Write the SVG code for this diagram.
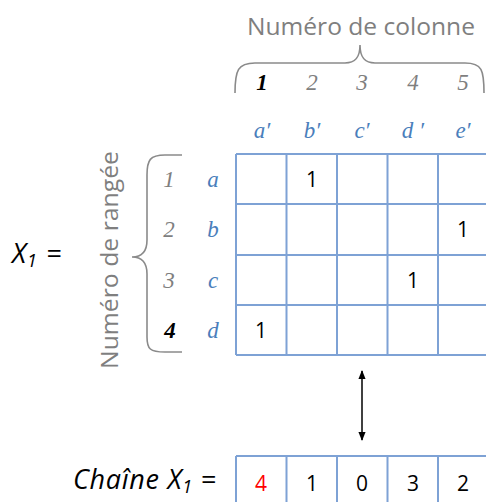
<svg xmlns="http://www.w3.org/2000/svg" width="486" height="502" viewBox="0 0 486 502">
<defs>
<style>
.sans{font-family:"Open Sans","Liberation Sans",sans-serif}
.gray{fill:#7f7f7f}
.ser{font-family:"Liberation Serif","DejaVu Serif",serif;font-style:italic;font-size:23px;text-anchor:middle}
.blue{fill:#4a7ebb}
.grid{stroke:#7ea2d5;stroke-width:2;fill:none}
.brace{stroke:#8a8a8a;stroke-width:1.6;fill:none}
.cell{font-family:"Open Sans","Liberation Sans",sans-serif;font-size:21px;text-anchor:middle;fill:#000}
.lbl{font-family:"Open Sans","Liberation Sans",sans-serif;font-size:27px;font-style:italic;fill:#000}
</style>
<marker id="ah" viewBox="0 0 10 10" refX="9" refY="5" markerWidth="6" markerHeight="6" orient="auto-start-reverse">
<path d="M0,1 L10,5 L0,9 z" fill="#000"/>
</marker>
</defs>
<rect width="486" height="502" fill="#fff"/>

<g id="col-title">
<text class="sans gray" x="361" y="35" font-size="23" text-anchor="middle" textLength="228" lengthAdjust="spacingAndGlyphs">Numéro de colonne</text>
<path class="brace" d="M235,93 C235,70 238,63 255,63 L345,63 C355,63 360,58 360,45 C360,58 365,63 375,63 L465,63 C482,63 484,70 484,93"/>
</g>

<g id="col-numbers">
<text class="ser" x="262" y="90" font-weight="bold" fill="#000">1</text>
<text class="ser gray" x="312" y="90">2</text>
<text class="ser gray" x="362" y="90">3</text>
<text class="ser gray" x="413" y="90">4</text>
<text class="ser gray" x="463" y="90">5</text>
</g>

<g id="col-letters">
<text class="ser blue" x="262" y="138">a′</text>
<text class="ser blue" x="312" y="138">b′</text>
<text class="ser blue" x="362" y="138">c′</text>
<text class="ser blue" x="413" y="138">d ′</text>
<text class="ser blue" x="463" y="138">e′</text>
</g>

<g id="row-title">
<text class="sans gray" transform="translate(118,260) rotate(-90)" font-size="23" text-anchor="middle" textLength="218" lengthAdjust="spacingAndGlyphs">Numéro de rangée</text>
<path class="brace" d="M182,155 L165,155 C150,155 147,160 147,175 L147,240 C147,252 142,257 132,257 C142,257 147,262 147,274 L147,337 C147,349 150,352 165,352 L182,352"/>
</g>

<g id="row-numbers">
<text class="ser gray" x="169" y="187">1</text>
<text class="ser gray" x="169" y="237">2</text>
<text class="ser gray" x="169" y="288">3</text>
<text class="ser" x="170" y="338" font-weight="bold" fill="#000">4</text>
<text class="ser blue" x="213" y="187">a</text>
<text class="ser blue" x="213" y="237">b</text>
<text class="ser blue" x="213" y="288">c</text>
<text class="ser blue" x="213" y="338">d</text>
</g>

<g id="x1-label">
<text class="lbl" x="12" y="263" letter-spacing="1">X<tspan font-size="18" dy="4">1</tspan><tspan dy="-4"> =</tspan></text>
</g>

<g id="matrix">
<path class="grid" d="M236,154 H492 M236,204 H492 M236,255 H492 M236,305 H492 M236,355 H492 M236,154 V355 M286.5,154 V355 M337,154 V355 M387.5,154 V355 M438,154 V355 M488.5,154 V355"/>
<text class="cell" x="312" y="187">1</text>
<text class="cell" x="463" y="237">1</text>
<text class="cell" x="413" y="288">1</text>
<text class="cell" x="261" y="338">1</text>
</g>

<g id="connectors">
<line x1="362" y1="371" x2="362" y2="440" stroke="#000" stroke-width="1.5" marker-start="url(#ah)" marker-end="url(#ah)"/>
</g>

<g id="chain-label">
<text class="lbl" x="73" y="489" letter-spacing="0.7">Chaîne X<tspan font-size="18" dy="4">1</tspan><tspan dy="-4"> =</tspan></text>
</g>

<g id="chain">
<path class="grid" d="M236,456 H492 M236,456 V504 M286.5,456 V504 M337,456 V504 M387.5,456 V504 M438,456 V504 M488.5,456 V504"/>
<text class="cell" x="261" y="491" style="fill:#ff0000">4</text>
<text class="cell" x="312" y="491">1</text>
<text class="cell" x="362" y="491">0</text>
<text class="cell" x="413" y="491">3</text>
<text class="cell" x="463" y="491">2</text>
</g>
</svg>
